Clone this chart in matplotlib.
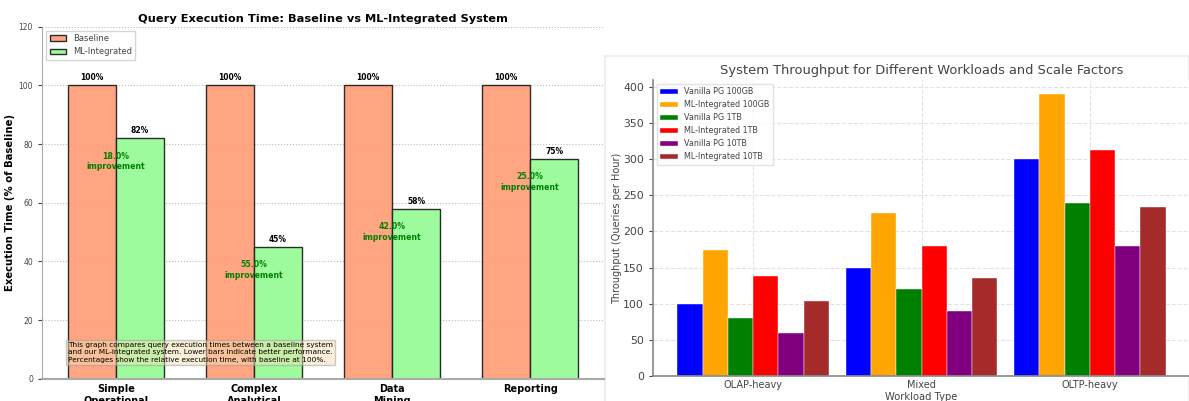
import numpy as np
import matplotlib
matplotlib.use("Agg")
import matplotlib.pyplot as plt
from matplotlib.patches import Rectangle

# -----------------------------------------------------------------------
# Data
# -----------------------------------------------------------------------
query_types = ["Simple\nOperational", "Complex\nAnalytical", "Data\nMining", "Reporting"]
baseline = [100, 100, 100, 100]
ml_integrated = [82, 45, 58, 75]

workloads = ["OLAP-heavy", "Mixed", "OLTP-heavy"]
series_names = ["Vanilla PG 100GB", "ML-Integrated 100GB", "Vanilla PG 1TB",
                "ML-Integrated 1TB", "Vanilla PG 10TB", "ML-Integrated 10TB"]
vanilla_100gb = [100, 150, 300]
ml_100gb = [174, 225, 390]
vanilla_1tb = [80, 120, 240]
ml_1tb = [139, 180, 312]
vanilla_10tb = [60, 90, 180]
ml_10tb = [104, 135, 234]
series_colors = ["blue", "orange", "green", "red", "purple", "brown"]

fig = plt.figure(figsize=(11.89, 4.01), dpi=100)

# -----------------------------------------------------------------------
# Left panel: query execution time
# -----------------------------------------------------------------------
ax1 = fig.add_axes([42 / 1189, (401 - 378.7) / 401, 562 / 1189, 352 / 401])
x = np.arange(len(query_types))
w = 0.35
b1 = ax1.bar(x - w / 2, baseline, w, label="Baseline", color="#FFA07A",
             edgecolor="#222", linewidth=1, alpha=0.95)
b2 = ax1.bar(x + w / 2, ml_integrated, w, label="ML-Integrated", color="#98FB98",
             edgecolor="#222", linewidth=1, alpha=0.95)

for bars in (b1, b2):
    for r in bars:
        h = r.get_height()
        ax1.text(r.get_x() + r.get_width() / 2, h + 1, f"{h:.0f}%",
                 ha="center", va="bottom", fontsize=5.5, fontweight="bold")

for i, v in enumerate(ml_integrated):
    ax1.text(i, v - 8, f"{100 - v:.1f}%\nimprovement", ha="center", va="center",
             fontsize=5.6, fontweight="bold", color="green")

ax1.set_ylim(0, 120)
ax1.set_xticks(x)
ax1.set_xticklabels(query_types, fontsize=7, fontweight="bold")
ax1.tick_params(axis="y", labelsize=5.5, colors="#444", length=3)
ax1.tick_params(axis="x", length=0, pad=4)
ax1.set_ylabel("Execution Time (% of Baseline)", fontsize=7.3, fontweight="bold")
ax1.yaxis.set_label_coords(-0.048, 0.5)
ax1.set_title("Query Execution Time: Baseline vs ML-Integrated System",
              fontsize=8.2, fontweight="bold", pad=3.5)
ax1.grid(axis="y", linestyle=":", color="#bbb", linewidth=0.8)
ax1.set_axisbelow(True)
for s in ("top", "right"):
    ax1.spines[s].set_visible(False)
for s in ("left", "bottom"):
    ax1.spines[s].set_color("#aaa")
ax1.spines["bottom"].set_linewidth(1.5)
ax1.legend(loc="upper left", fontsize=6, frameon=True, fancybox=False,
           edgecolor="#ccc", handlelength=2, labelcolor="#444")
ax1.text(0.046, 0.045,
         "This graph compares query execution times between a baseline system\n"
         "and our ML-integrated system. Lower bars indicate better performance.\n"
         "Percentages show the relative execution time, with baseline at 100%.",
         transform=ax1.transAxes, fontsize=5.3, va="bottom", ha="left",
         linespacing=1.3,
         bbox=dict(boxstyle="square,pad=0.3", facecolor="wheat", alpha=0.5,
                   edgecolor="#999"))

# -----------------------------------------------------------------------
# Right panel: throughput
# -----------------------------------------------------------------------
fig.patches.append(Rectangle((605 / 1189, -0.01), 1 - 605 / 1189, (401 - 56) / 401 + 0.01,
                             transform=fig.transFigure, facecolor="white",
                             edgecolor="#eeeeee", linewidth=1.5, zorder=-1))

ax2 = fig.add_axes([653 / 1189, (401 - 376) / 401, 537 / 1189, 296 / 401])
xw = np.arange(len(workloads))
bw = 0.15
all_series = [vanilla_100gb, ml_100gb, vanilla_1tb, ml_1tb, vanilla_10tb, ml_10tb]
for i, (vals, name, col) in enumerate(zip(all_series, series_names, series_colors)):
    ax2.bar(xw + (i - 2.5) * bw, vals, bw, label=name, color=col,
            edgecolor="#ffffff", linewidth=0.3)

ax2.set_xticks(xw)
ax2.set_xticklabels(workloads)
ax2.set_yticks(range(0, 401, 50))
ax2.tick_params(axis="x", labelsize=7, colors="#444", length=0, pad=3)
ax2.tick_params(axis="y", labelsize=7.8, colors="#444", length=3)
ax2.set_xlabel("Workload Type", fontsize=7.2, color="#444", labelpad=1)
ax2.set_ylabel("Throughput (Queries per Hour)", fontsize=7, color="#444")
ax2.yaxis.set_label_coords(-0.058, 0.5)
ax2.set_title("System Throughput for Different Workloads and Scale Factors",
              fontsize=9.4, color="#444", pad=4)
ax2.grid(True, linestyle="--", color="#e3e3e3", linewidth=0.8)
ax2.set_axisbelow(True)
for s in ("top", "right"):
    ax2.spines[s].set_visible(False)
for s in ("left", "bottom"):
    ax2.spines[s].set_color("#888")
    ax2.spines[s].set_linewidth(1.2)
ax2.legend(loc="upper left", fontsize=5.8, frameon=True, fancybox=False,
           edgecolor="#ddd", handlelength=2.2, labelcolor="#444")

fig.savefig("out.png", dpi=100)
